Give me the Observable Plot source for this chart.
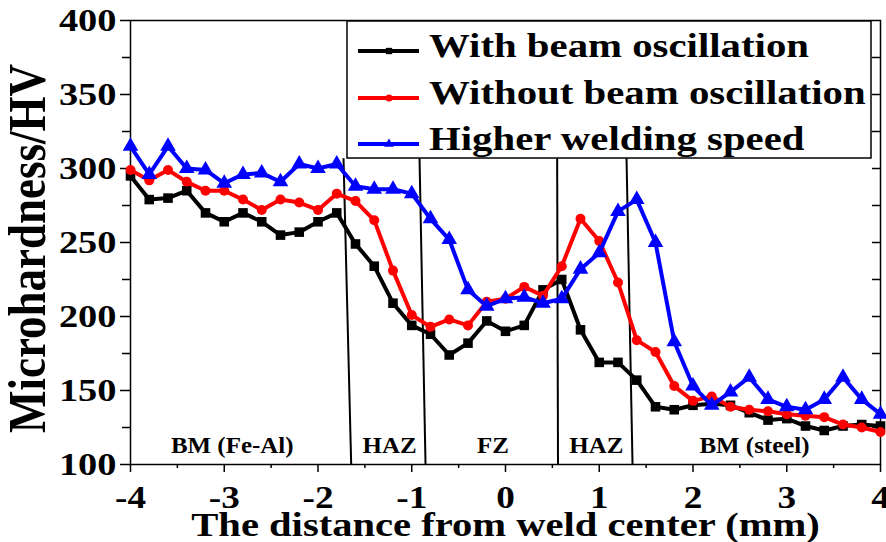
<!DOCTYPE html>
<html>
<head>
<meta charset="utf-8">
<script src="https://cdn.jsdelivr.net/npm/d3@7"></script>
<script src="https://cdn.jsdelivr.net/npm/@observablehq/plot@0.6"></script>
<style>
  html, body { margin: 0; padding: 0; background: #fff; }
  #wrap { position: relative; width: 886px; height: 542px; overflow: hidden; }
  #legend { position: absolute; left: 0; top: 0; }
</style>
</head>
<body>
<div id="wrap"></div>
<script>
// ---------- data ----------
const distance = [-4, -3.8, -3.6, -3.4, -3.2, -3.0, -2.8, -2.6, -2.4, -2.2, -2.0, -1.8, -1.6, -1.4, -1.2, -1.0, -0.8, -0.6, -0.4, -0.2,
  0, 0.2, 0.4, 0.6, 0.8, 1.0, 1.2, 1.4, 1.6, 1.8, 2.0, 2.2, 2.4, 2.6, 2.8, 3.0, 3.2, 3.4, 3.6, 3.8, 4.0];
const withOscillation = [295, 279, 280, 285, 270, 264, 270, 264, 255, 257, 264, 270, 249, 234, 209, 194, 188, 174, 182, 197,
  190, 194, 218, 225, 191, 169, 169, 157, 139, 137, 140, 141, 140, 135, 130, 131, 126, 123, 126, 127, 126];
const withoutOscillation = [299, 292, 299, 291, 285, 285, 279, 272, 279, 277, 272, 283, 278, 265, 231, 201, 193, 198, 194, 210,
  212, 220, 214, 234, 266, 251, 223, 184, 176, 153, 143, 146, 139, 137, 136, 134, 133, 132, 127, 125, 122];
const higherSpeed = [315, 296, 315, 300, 299, 290, 296, 297, 291, 303, 300, 303, 288, 286, 286, 283, 266, 252, 218, 207,
  212, 213, 209, 212, 232, 243, 271, 279, 250, 183, 153, 140, 149, 159, 144, 139, 137, 144, 159, 144, 134];

const seriesNames = ["With beam oscillation", "Without beam oscillation", "Higher welding speed"];
const seriesValues = [withOscillation, withoutOscillation, higherSpeed];
const seriesColors = ["#000000", "#ff0000", "#0000ff"];
const seriesSymbols = ["square", "circle", "triangle"];

// zone boundary lines (slightly tilted) and zone labels
const zoneTopX = [-1.728, -0.917, 0.551, 1.291];
const zoneBottomX = [-1.646, -0.853, 0.560, 1.355];
const zoneTopY = 307;
const zoneBottomY = 100;
const zoneNames = ["BM (Fe-Al)", "HAZ", "FZ", "HAZ", "BM (steel)"];
const zoneLabelX = [-2.915, -1.237, -0.133, 0.969, 2.656];
const zoneLabelY = 113;

const xTicks = [-4, -3, -2, -1, 0, 1, 2, 3, 4];
const xMinorTicks = [-3.5, -2.5, -1.5, -0.5, 0.5, 1.5, 2.5, 3.5];
const yTicks = [100, 150, 200, 250, 300, 350, 400];
const yMinorTicks = [125, 175, 225, 275, 325, 375];
const yRightTicks = [125, 150, 175, 200, 225, 250, 275, 300, 325, 350, 375];

const xTitle = "The distance from weld center (mm)";
const yTitle = "Microhardness/HV";

// ---------- build ----------
const rows = [];
seriesNames.forEach((name, s) => {
  distance.forEach((d, i) => rows.push({series: name, x: d, y: seriesValues[s][i]}));
});
const zones = zoneTopX.map((x, i) => ({x1: x, x2: zoneBottomX[i]}));
const zoneLabels = zoneNames.map((n, i) => ({name: n, x: zoneLabelX[i]}));

const FONT = '"Liberation Serif", "Times New Roman", Times, serif';

const seriesMarks = [];
seriesNames.forEach((name, s) => {
  const data = rows.filter(r => r.series === name);
  seriesMarks.push(Plot.line(data, {x: "x", y: "y", stroke: seriesColors[s], strokeWidth: 4, strokeLinejoin: "round"}));
  seriesMarks.push(Plot.dot(data, {x: "x", y: "y", symbol: () => seriesSymbols[s], fill: seriesColors[s], stroke: "none",
    r: s === 1 ? 5 : (s === 0 ? 5.4 : 5.8)}));
});

const chart = Plot.plot({
  width: 886,
  height: 542,
  marginLeft: 130,
  marginRight: 6,
  marginTop: 20,
  marginBottom: 78,
  x: {domain: [-4, 4]},
  y: {domain: [100, 400]},
  symbol: {type: "identity"},
  style: {fontFamily: FONT, fontWeight: "bold", color: "#000", background: "#fff", overflow: "visible"},
  marks: [
    Plot.frame({stroke: "#000", strokeWidth: 1.5}),
    Plot.axisY({ticks: yTicks, tickSize: 10, tickPadding: 4, fontSize: 32, fontWeight: "bold", tickFormat: d => String(d), label: null, strokeWidth: 1.5}),
    Plot.axisY({ticks: yMinorTicks, tickSize: 8, text: null, label: null, strokeWidth: 1.5}),
    Plot.tickY(yRightTicks, {y: d => d, insetLeft: 742, stroke: "#000", strokeWidth: 1.5}),
    Plot.axisX({ticks: xTicks, tickSize: 8, tickPadding: 13, fontSize: 31, fontWeight: "bold",
      tickFormat: d => (d < 0 ? "-" + Math.abs(d) : String(d)), label: null, strokeWidth: 1.5}),
    Plot.axisX({ticks: xMinorTicks, tickSize: 4, text: null, label: null, strokeWidth: 1.5}),
    Plot.link(zones, {x1: "x1", x2: "x2", y1: () => zoneTopY, y2: () => zoneBottomY, stroke: "#000", strokeWidth: 2}),
    Plot.text(zoneLabels, {x: "x", y: () => zoneLabelY, text: "name", fontSize: 24, fontWeight: "bold", fill: "#000"}),
    ...seriesMarks,
    Plot.text([xTitle], {frameAnchor: "bottom", lineAnchor: "middle", textAnchor: "middle", dy: 61, fontSize: 33, fontWeight: "bold", fill: "#000"}),
    Plot.text([yTitle], {frameAnchor: "left", textAnchor: "middle", lineAnchor: "middle", rotate: -90, dx: -102, dy: 6, fontSize: 45, fontWeight: "bold", fill: "#000"})
  ]
});

// horizontal stretch of bold serif text (the reference's type is wide)
const stretch = {32: 1.2, 31: 1.2, 33: 1.23, 24: 1.04, 45: 1.15};
chart.querySelectorAll("text").forEach(t => {
  const fsEl = t.closest("[font-size]");
  const fs = fsEl ? +fsEl.getAttribute("font-size") : null;
  const s = stretch[fs];
  if (!s) return;
  const tr = t.getAttribute("transform");
  if (tr && /rotate\(-90\)/.test(tr)) t.setAttribute("transform", tr + ` scale(1,${s})`);
  else if (tr) t.setAttribute("transform", tr + ` scale(${s},1)`);
  else {
    const x = +(t.getAttribute("x") || 0), y = +(t.getAttribute("y") || 0);
    t.setAttribute("x", 0); t.setAttribute("y", 0);
    t.setAttribute("transform", `translate(${x},${y}) scale(${s},1)`);
  }
});

document.getElementById("wrap").appendChild(chart);

// ---------- legend (overlay) ----------
const ns = "http://www.w3.org/2000/svg";
const lg = document.createElementNS(ns, "svg");
lg.setAttribute("id", "legend");
lg.setAttribute("width", 886);
lg.setAttribute("height", 542);
const box = document.createElementNS(ns, "rect");
box.setAttribute("x", 347); box.setAttribute("y", 21);
box.setAttribute("width", 524); box.setAttribute("height", 137);
box.setAttribute("fill", "#fff"); box.setAttribute("stroke", "#000"); box.setAttribute("stroke-width", 1.5);
lg.appendChild(box);
const rowBase = [57, 104, 150];
seriesNames.forEach((name, s) => {
  const yl = rowBase[s] - 6;
  const ln = document.createElementNS(ns, "line");
  ln.setAttribute("x1", 358); ln.setAttribute("x2", 419);
  ln.setAttribute("y1", yl); ln.setAttribute("y2", yl);
  ln.setAttribute("stroke", seriesColors[s]); ln.setAttribute("stroke-width", 4);
  lg.appendChild(ln);
  const sym = {square: d3.symbolSquare, circle: d3.symbolCircle, triangle: d3.symbolTriangle}[seriesSymbols[s]];
  const p = document.createElementNS(ns, "path");
  p.setAttribute("d", d3.symbol(sym, 40)());
  p.setAttribute("transform", `translate(389,${yl})`);
  p.setAttribute("fill", seriesColors[s]);
  lg.appendChild(p);
  const tx = document.createElementNS(ns, "text");
  tx.textContent = name;
  tx.setAttribute("transform", `translate(429,${rowBase[s]}) scale(1.2,1)`);
  tx.setAttribute("font-family", FONT);
  tx.setAttribute("font-weight", "bold");
  tx.setAttribute("font-size", 34);
  tx.setAttribute("fill", "#000");
  lg.appendChild(tx);
});
document.getElementById("wrap").appendChild(lg);
</script>
</body>
</html>
